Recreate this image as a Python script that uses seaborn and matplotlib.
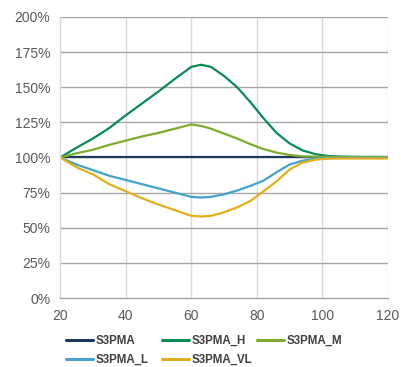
import matplotlib
matplotlib.use("Agg")
import matplotlib.pyplot as plt
import seaborn as sns
import pandas as pd
from matplotlib.ticker import FuncFormatter
from matplotlib.lines import Line2D

x_vals = [20, 25, 30, 35, 40, 45, 50, 55, 60, 63, 66, 70, 74, 78, 82, 86, 90, 94, 98, 102, 106, 110, 115, 120]
s3pma = [100] * 24
s3pma_h = [100, 107, 113.5, 121, 130, 138.5, 147, 156, 164.5, 166, 164.5, 158, 150, 139.5, 128, 117.5, 110, 105, 102.3, 101, 100.6, 100.4, 100.3, 100.3]
s3pma_m = [100, 103, 105.5, 109, 112, 115, 117.5, 120.5, 123.5, 122.5, 120.5, 117, 113.5, 109.5, 106, 103.5, 101.8, 100.8, 100.5, 100.4, 100.3, 100.3, 100.3, 100.3]
s3pma_l = [100, 95, 91, 87, 84, 81, 78, 75, 72, 71.5, 72, 73.8, 76.5, 79.8, 83.5, 89.5, 95, 97.8, 99.2, 99.6, 99.8, 99.8, 99.8, 99.8]
s3pma_vl = [100, 93, 88, 81, 76, 71, 66.5, 62.5, 58.5, 58, 58.5, 61, 64.5, 69, 76, 83, 91.5, 96.5, 98.5, 99.2, 99.3, 99.3, 99.3, 99.3]

series_names = ["S3PMA", "S3PMA_H", "S3PMA_M", "S3PMA_L", "S3PMA_VL"]
series_vals = [s3pma, s3pma_h, s3pma_m, s3pma_l, s3pma_vl]
colors = ["#1b3a5c", "#0a8a55", "#7eab2f", "#45a2c9", "#e3ae1c"]

rows = []
for name, vals in zip(series_names, series_vals):
    for xv, yv in zip(x_vals, vals):
        rows.append({"x": xv, "y": yv, "series": name})
df = pd.DataFrame(rows)

sns.set_style("white")
plt.rcParams["font.family"] = ["Liberation Sans", "DejaVu Sans"]

fig = plt.figure(figsize=(4.01, 3.67), dpi=100)
ax = fig.add_axes([0.15, 0.188, 0.8176, 0.7657])

sns.lineplot(data=df, x="x", y="y", hue="series", hue_order=series_names,
             palette=colors, linewidth=1.6, ax=ax, legend=False)

ax.set_xlim(20, 120)
ax.set_ylim(0, 200)
ax.set_xticks([20, 40, 60, 80, 100, 120])
ax.set_yticks([0, 25, 50, 75, 100, 125, 150, 175, 200])
ax.yaxis.set_major_formatter(FuncFormatter(lambda v, p: f"{int(v)}%"))
ax.set_xlabel("")
ax.set_ylabel("")

for yv in [25, 50, 75, 100, 125, 150, 175, 200]:
    ax.axhline(yv, color="#a6a6a6", linewidth=1.0, zorder=0.5)
for xv in [40, 60, 80, 100, 120]:
    ax.axvline(xv, color="#d9d9d9", linewidth=1.0, zorder=0.4)

for s in ["top", "right"]:
    ax.spines[s].set_visible(False)
ax.spines["left"].set_color("#d9d9d9")
ax.spines["left"].set_linewidth(1.0)
ax.spines["bottom"].set_color("#a6a6a6")
ax.spines["bottom"].set_linewidth(1.0)

ax.tick_params(axis="both", length=0, labelsize=10, colors="#595959")
ax.tick_params(axis="x", pad=8)
ax.tick_params(axis="y", pad=7)

handles = {n: Line2D([0], [0], color=c, linewidth=2.2) for n, c in zip(series_names, colors)}
columns = [["S3PMA", "S3PMA_L"], ["S3PMA_H", "S3PMA_VL"], ["S3PMA_M"]]
col_x_px = [66, 162, 257]
for names, xp in zip(columns, col_x_px):
    leg = fig.legend([handles[n] for n in names], names, loc="upper left",
                     bbox_to_anchor=(xp / 401, 1 - 335 / 367), frameon=False,
                     prop={"weight": "bold", "size": 8.3}, handlelength=2.35,
                     handletextpad=0.25, labelspacing=0.6,
                     borderpad=0, borderaxespad=0)
    for t in leg.get_texts():
        t.set_color("#404040")

fig.savefig("out.png", dpi=100)
